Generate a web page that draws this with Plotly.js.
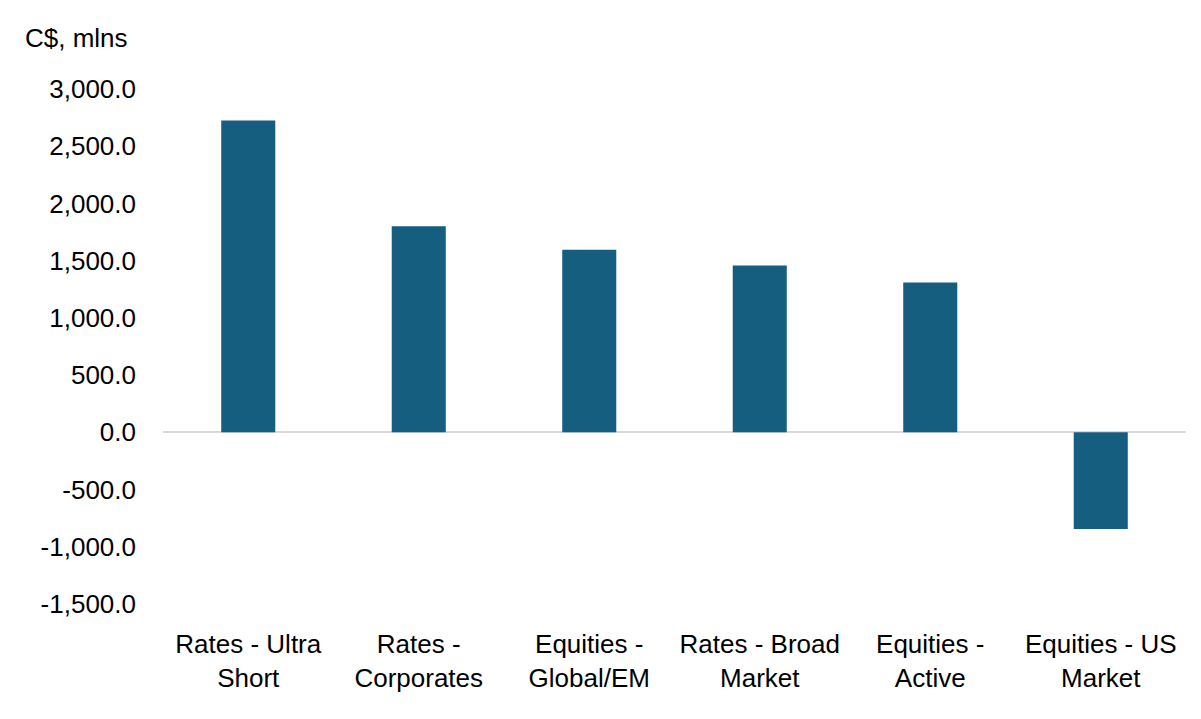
<!DOCTYPE html>
<html>
<head>
<meta charset="utf-8">
<script src="https://cdn.plot.ly/plotly-3.0.1.min.js"></script>
<style>html,body{margin:0;padding:0;background:#fff;}#chart{width:1201px;height:719px;}</style>
</head>
<body>
<div id="chart"></div>
<script>
var categories = ["Rates - Ultra<br>Short", "Rates -<br>Corporates", "Equities -<br>Global/EM", "Rates - Broad<br>Market", "Equities -<br>Active", "Equities - US<br>Market"];
var values = [2725, 1800, 1595, 1458, 1309, -845];
var yTickVals = [-1500, -1000, -500, 0, 500, 1000, 1500, 2000, 2500, 3000];
var yTickText = ["-1,500.0", "-1,000.0", "-500.0", "0.0", "500.0", "1,000.0", "1,500.0", "2,000.0", "2,500.0", "3,000.0"];

var fontFam = "Liberation Sans, Arial, sans-serif";
var trace = {
  type: "bar",
  x: categories,
  y: values,
  width: 0.317,
  marker: {color: "#165E80", line: {width: 0}},
  hoverinfo: "x+y"
};
var layout = {
  width: 1201, height: 719,
  margin: {l: 163, r: 15, t: 89, b: 115},
  paper_bgcolor: "#ffffff", plot_bgcolor: "#ffffff",
  showlegend: false,
  bargap: 0.683,
  font: {family: fontFam, size: 26, color: "#000000"},
  title: {text: "C$, mlns", font: {family: fontFam, size: 26, color: "#000"}, xref: "container", yref: "container", x: 25/1201, xanchor: "left", y: 1 - 38/719, yanchor: "middle"},
  xaxis: {
    showgrid: false, showline: false, zeroline: false, ticks: "",
    tickfont: {family: fontFam, size: 26, color: "#000"},
    fixedrange: true, ticklabelstandoff: 22
  },
  yaxis: {
    range: [-1500, 3000], showgrid: false, showline: false,
    zeroline: true, zerolinecolor: "#d9d9d9", zerolinewidth: 2,
    tickvals: yTickVals, ticktext: yTickText, ticks: "",
    ticklabelstandoff: 26,
    tickfont: {family: fontFam, size: 26, color: "#000"},
    fixedrange: true
  }
};
Plotly.newPlot("chart", [trace], layout, {displayModeBar: false, staticPlot: true});
</script>
</body>
</html>
